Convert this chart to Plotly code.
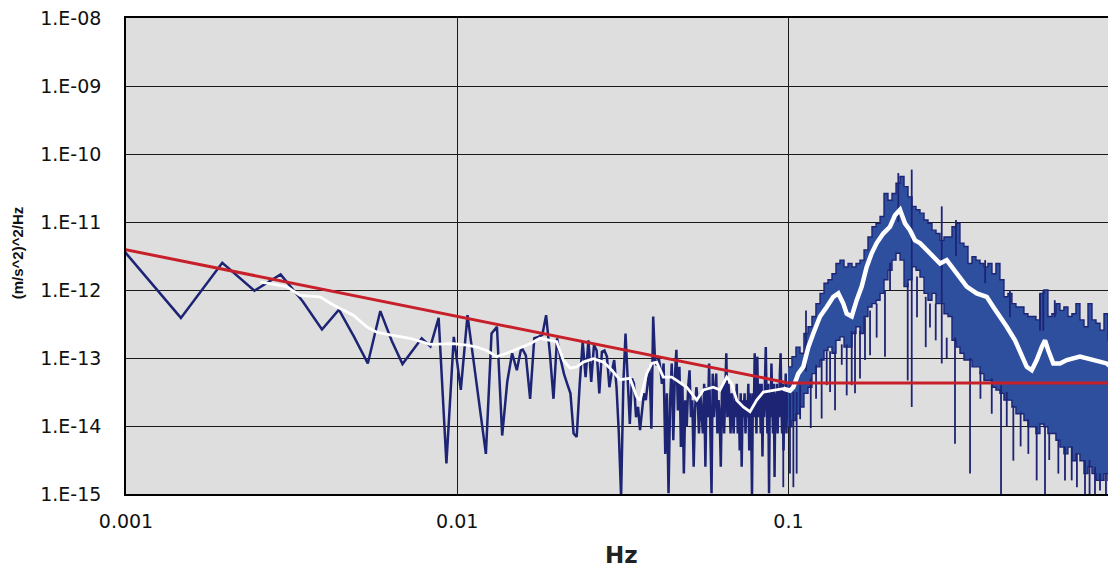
import numpy as np
import plotly.graph_objects as go

# ---------------- data (PSD values stored as log10 of (m/s^2)^2/Hz) ----------------
DF = 1.0 / 2048.0      # frequency resolution of the spectrum, Hz
BIN0 = 2               # first plotted bin

# individual spectral bins, k = 2 ... 205
sparse_log = [
    -11.40, -12.41, -11.60, -12.01, -11.77, -12.17, -12.58, -12.29, -12.69, -13.08,
    -12.31, -12.75, -13.09, -12.89, -12.71, -12.83, -12.41, -14.55, -12.69,
    -13.47, -12.37, -13.08, -13.77, -14.41, -12.64, -12.54, -14.14, -13.35, -12.93,
    -13.18, -12.84, -12.96, -13.60, -12.71, -12.69, -12.66, -12.37, -12.93, -13.60,
    -12.71, -13.01, -13.23, -13.38, -13.52, -14.11, -14.16, -13.38, -12.76, -13.28,
    -12.74, -13.35, -12.81, -12.89, -13.52, -12.91, -12.89, -12.98, -13.43, -13.20,
    -13.03, -13.43, -14.11, -15.05, -13.38, -12.64, -13.33, -13.97, -13.30, -13.38,
    -13.87, -13.72, -14.06, -13.77, -13.52, -13.62, -13.33, -13.13, -14.04, -12.39,
    -13.03, -13.11, -12.98, -13.13, -13.38, -13.08, -14.41, -13.52, -14.99, -13.62,
    -13.08, -14.21, -13.28, -12.88, -13.77, -13.13, -14.31, -13.38, -14.70, -13.62,
    -14.01, -13.43, -13.18, -13.87, -13.62, -14.60, -13.77, -13.43, -13.62, -14.11,
    -13.52, -13.77, -14.11, -13.38, -14.60, -13.43, -13.87, -13.08, -14.21, -14.99,
    -13.23, -13.87, -13.52, -13.23, -14.11, -13.62, -13.87, -14.60, -13.52, -13.38,
    -14.11, -13.62, -12.93, -13.87, -13.38, -13.62, -14.11, -13.52, -13.87, -14.11,
    -13.52, -13.87, -13.38, -14.11, -13.62, -14.36, -13.52, -14.60, -13.62, -13.87,
    -13.52, -14.11, -13.62, -13.87, -13.38, -14.36, -13.52, -13.87, -15.05, -13.52,
    -13.87, -12.93, -13.62, -14.11, -12.98, -13.87, -13.38, -13.62, -14.11, -13.38,
    -14.45, -13.52, -13.87, -13.23, -12.84, -13.62, -14.11, -13.38, -14.99, -13.52,
    -13.87, -13.08, -13.62, -14.11, -13.38, -14.75, -13.52, -13.87, -13.38, -14.11,
    -13.52, -13.87, -13.23, -12.93, -13.62, -14.11, -13.38, -14.36, -13.52, -13.87,
    -13.23, -14.11, -13.62, -13.87, -13.38,
]

# dense part of the spectrum (0.1 - 1 Hz): upper and lower edge of the solid band
band_f = [
    0.0997, 0.1025, 0.1054, 0.1084, 0.1114, 0.1146, 0.1178, 0.1211, 0.1246, 0.1281,
    0.1317, 0.1354, 0.1392, 0.1431, 0.1472, 0.1514, 0.1556, 0.1600, 0.1645, 0.1692,
    0.1739, 0.1788, 0.1839, 0.1891, 0.1944, 0.1998, 0.2055, 0.2113, 0.2173, 0.2234,
    0.2297, 0.2361, 0.2428, 0.2496, 0.2567, 0.2639, 0.2713, 0.2790, 0.2869, 0.2949,
    0.3033, 0.3118, 0.3206, 0.3296, 0.3389, 0.3485, 0.3583, 0.3684, 0.3788, 0.3894,
    0.4004, 0.4117, 0.4233, 0.4352, 0.4475, 0.4601, 0.4730, 0.4864, 0.5001, 0.5142,
    0.5287, 0.5436, 0.5589, 0.5747, 0.5909, 0.6075, 0.6247, 0.6423, 0.6604, 0.6790,
    0.6981, 0.7178, 0.7381, 0.7589, 0.7806, 0.8027, 0.8253, 0.8486, 0.8726, 0.8972,
    0.9226, 0.9486, 0.9754,
]
band_hi = [
    -13.13, -12.98, -12.84, -12.93, -12.64, -12.54, -12.39, -12.20, -12.05, -11.90,
    -11.85, -11.76, -11.61, -11.56, -11.66, -11.61, -11.66, -11.61, -11.56, -11.41,
    -11.22, -11.07, -11.02, -10.92, -10.58, -10.68, -10.58, -10.43, -10.33, -10.48,
    -10.63, -10.77, -10.82, -10.87, -10.97, -11.02, -11.12, -11.17, -11.27, -11.22,
    -11.22, -11.07, -11.02, -11.31, -11.36, -11.61, -11.51, -11.56, -11.61, -11.66,
    -11.61, -11.76, -11.61, -11.85, -12.10, -12.05, -12.20, -12.25, -12.25, -12.35,
    -12.39, -12.39, -12.44, -12.05, -12.00, -12.39, -12.35, -12.20, -12.30, -12.25,
    -12.39, -12.35, -12.20, -12.44, -12.54, -12.20, -12.44, -12.49, -12.59, -12.35,
    -12.74, -12.84, -12.74,
]
band_lo = [
    -14.01, -13.92, -13.82, -13.72, -13.52, -13.43, -13.23, -13.13, -13.03, -12.89,
    -12.84, -12.93, -12.74, -12.69, -12.84, -12.84, -12.64, -12.54, -12.64, -12.39,
    -12.25, -12.20, -12.15, -12.05, -11.85, -11.71, -11.56, -11.46, -11.56, -11.95,
    -11.85, -11.66, -11.71, -11.81, -12.05, -12.15, -12.05, -12.20, -12.20, -12.35,
    -12.39, -12.74, -12.84, -12.93, -13.03, -13.03, -13.13, -13.13, -13.23, -13.33,
    -13.33, -13.43, -13.47, -13.52, -13.62, -13.62, -13.72, -13.82, -13.82, -13.92,
    -14.01, -14.01, -14.11, -13.97, -14.01, -14.11, -14.11, -14.21, -14.31, -14.41,
    -14.31, -14.51, -14.41, -14.51, -14.70, -14.60, -14.70, -14.80, -14.80, -14.70,
    -14.80, -14.90, -14.85,
]

# isolated spikes sticking out of the dense band (top and bottom of each spike)
spike_f = [0.1011, 0.1059, 0.1130, 0.1168, 0.1260, 0.1383, 0.1500, 0.1589, 0.1703, 0.1957,
           0.2147, 0.2292, 0.2357, 0.2598, 0.2785, 0.2904, 0.3184, 0.3206, 0.3535, 0.4111,
           0.4385, 0.4777, 0.5302, 0.5618, 0.5749, 0.5883, 0.5953, 0.6841, 0.7167, 0.7862,
           0.8426, 0.8727, 0.9354,
           0.0965, 0.1035, 0.1085, 0.1212, 0.1305, 0.1336, 0.1449, 0.1553, 0.1645, 0.1764,
           0.1847, 0.2027, 0.2445, 0.2676, 0.3006, 0.3800, 0.3927, 0.4563, 0.4664, 0.5025,
           0.6131, 0.6371, 0.6532, 0.7432, 0.8114, 0.9095]
spike_top = [-13.40, -13.50, -12.30, -13.30, -13.00, -12.90, -12.80, -12.60, -12.40, -12.00,
             -10.28, -11.90, -10.23, -12.10, -12.20, -10.77, -12.70, -10.97, -13.00, -13.30,
             -13.40, -13.70, -13.90, -14.00, -12.05, -12.00, -14.00, -14.30, -14.30, -14.50,
             -14.60, -14.70, -14.70,
             -13.60, -13.50, -13.40, -13.10, -12.90, -12.90, -12.80, -12.60, -12.60, -12.30,
             -12.20, -11.60, -11.80, -12.20, -12.70, -13.20, -11.56, -13.50, -12.00, -13.80,
             -14.10, -12.15, -14.20, -14.40, -14.50, -14.70]
spike_bot = [-14.70, -14.70, -13.20, -14.03, -13.89, -13.77, -13.55, -13.52, -13.03, -12.98,
             -11.00, -13.33, -13.72, -12.84, -12.74, -13.08, -14.26, -11.50, -14.70, -13.82,
             -15.00, -14.51, -14.41, -14.80, -12.60, -12.60, -15.00, -14.80, -14.80, -15.00,
             -15.00, -14.95, -14.95,
             -14.90, -14.90, -13.90, -13.60, -13.40, -13.50, -13.10, -13.40, -13.30, -12.96,
             -12.70, -12.00, -12.40, -12.55, -13.00, -13.60, -11.90, -14.00, -12.40, -14.30,
             -14.50, -12.40, -14.70, -14.90, -15.00, -15.00]

# smoothed spectrum (white curve)
smooth_f = [
    0.002539, 0.003056, 0.003353, 0.003852, 0.004226, 0.004857, 0.005332, 0.005715, 0.006268, 0.007202,
    0.008277, 0.009732, 0.010683, 0.011454, 0.012280, 0.013165, 0.014114, 0.015659, 0.016589, 0.017783,
    0.019066, 0.019970, 0.020908, 0.021907, 0.022950, 0.024027, 0.025760, 0.027616, 0.028932, 0.031013,
    0.033247, 0.034833, 0.035640, 0.037338, 0.038658, 0.040026, 0.041905, 0.044422, 0.045994, 0.049316,
    0.052872, 0.055353, 0.059335, 0.062162, 0.065124, 0.067428, 0.069815, 0.073092, 0.076575, 0.080226,
    0.083994, 0.090048, 0.096519, 0.10112, 0.10346, 0.10712, 0.11091, 0.11483, 0.11889, 0.12456,
    0.13050, 0.13663, 0.14147, 0.14647, 0.14997, 0.15527, 0.16076, 0.16644, 0.17233, 0.17842,
    0.18473, 0.19339, 0.20265, 0.20981, 0.21723, 0.22491, 0.23286, 0.24109, 0.24961, 0.26151,
    0.27384, 0.28690, 0.30059, 0.32228, 0.34549, 0.37037, 0.39704, 0.41569, 0.43551, 0.45627,
    0.48337, 0.50641, 0.52431, 0.54284, 0.56204, 0.58192, 0.59541, 0.60922, 0.63076, 0.66081,
    0.69230, 0.75918, 0.83257, 0.91413, 0.96845,
]
smooth_log = [
    -11.88, -11.95, -12.08, -12.10, -12.22, -12.37, -12.54, -12.62, -12.66, -12.71,
    -12.80, -12.79, -12.81, -12.84, -12.89, -12.98, -12.93, -12.84, -12.79, -12.71,
    -12.74, -12.76, -13.03, -13.15, -13.13, -13.06, -13.01, -13.06, -13.15, -13.32,
    -13.30, -13.57, -13.62, -13.23, -13.08, -13.06, -13.28, -13.28, -13.33, -13.43,
    -13.62, -13.47, -13.43, -13.47, -13.28, -13.38, -13.62, -13.72, -13.79, -13.62,
    -13.50, -13.47, -13.45, -13.48, -13.43, -13.23, -13.13, -12.84, -12.64, -12.39,
    -12.25, -12.10, -12.05, -12.20, -12.35, -12.39, -12.15, -11.95, -11.66, -11.46,
    -11.31, -11.17, -11.07, -10.90, -10.82, -11.02, -11.12, -11.27, -11.31, -11.41,
    -11.51, -11.61, -11.56, -11.76, -11.95, -12.05, -12.10, -12.25, -12.39, -12.54,
    -12.74, -12.98, -13.13, -13.18, -13.03, -12.84, -12.74, -12.89, -13.08, -13.08,
    -13.03, -12.98, -13.03, -13.08, -13.18,
]

# requirement curve (red)
req_f = [0.000977, 0.1, 1.0]
req_val = [4.0e-12, 4.3e-14, 4.3e-14]

# green marker at the right edge
green_f = [0.972]
green_val = [3.5e-12]

x_tick_vals = [0.001, 0.01, 0.1, 1]
x_tick_text = ["0.001", "0.01", "0.1", "1"]
y_tick_exp = [-15, -14, -13, -12, -11, -10, -9, -8]
y_tick_text = ["1.E-15", "1.E-14", "1.E-13", "1.E-12", "1.E-11", "1.E-10", "1.E-09", "1.E-08"]

# ---------------- styling ----------------
NAVY = "#1d2474"
BAND = "#2d4f9e"
RED = "#c8202a"
GREEN = "#4cb030"
GRID = "#1a1a1a"
TICK_FONT = dict(family="DejaVu Sans", size=19, color="#111111")

sparse_f = (BIN0 + np.arange(len(sparse_log))) * DF
smooth_f_arr = np.array(smooth_f)
smooth_y = 10 ** np.array(smooth_log)
low_part = smooth_f_arr <= 0.102     # thinner in the sparse low-frequency part
high_part = smooth_f_arr >= 0.096

spx, spy = [], []
for f, t, b in zip(spike_f, spike_top, spike_bot):
    spx += [f, f, None]
    spy += [10 ** t, 10 ** b, None]

fig = go.Figure()
fig.add_trace(go.Scatter(x=sparse_f, y=10 ** np.array(sparse_log), mode="lines",
                         line=dict(color=NAVY, width=2.5), hoverinfo="skip", showlegend=False))
fig.add_trace(go.Scatter(x=band_f, y=10 ** np.array(band_lo), mode="lines",
                         line=dict(color=NAVY, width=1.4, shape="hv"),
                         hoverinfo="skip", showlegend=False))
fig.add_trace(go.Scatter(x=band_f, y=10 ** np.array(band_hi), mode="lines", fill="tonexty",
                         fillcolor=BAND, line=dict(color=NAVY, width=1.4, shape="hv"),
                         hoverinfo="skip", showlegend=False))
fig.add_trace(go.Scatter(x=spx, y=spy, mode="lines", line=dict(color=NAVY, width=1.8),
                         hoverinfo="skip", showlegend=False))
fig.add_trace(go.Scatter(x=smooth_f_arr[low_part], y=smooth_y[low_part], mode="lines",
                         line=dict(color="white", width=2.8), hoverinfo="skip", showlegend=False))
fig.add_trace(go.Scatter(x=smooth_f_arr[high_part], y=smooth_y[high_part], mode="lines",
                         line=dict(color="white", width=4.5), hoverinfo="skip", showlegend=False))
fig.add_trace(go.Scatter(x=req_f, y=req_val, mode="lines",
                         line=dict(color=RED, width=3), hoverinfo="skip", showlegend=False))
fig.add_trace(go.Scatter(x=green_f, y=green_val, mode="markers", cliponaxis=False,
                         marker=dict(color=GREEN, size=14), hoverinfo="skip", showlegend=False))
# carrier trace for the top frame axis (minor ticks)
fig.add_trace(go.Scatter(x=[0.001], y=[1e-15], xaxis="x2", mode="markers",
                         marker=dict(opacity=0), hoverinfo="skip", showlegend=False))

# the page body adds an 8 px offset, so the figure is 8 px smaller and margins compensate
fig.update_layout(
    width=1108, height=562,
    margin=dict(l=118, r=0, t=10, b=76),
    paper_bgcolor="white",
    plot_bgcolor="#dedede",
    xaxis=dict(type="log", range=[-3, -0.0109], tickmode="array",
               tickvals=x_tick_vals, ticktext=x_tick_text, tickfont=TICK_FONT,
               showgrid=True, gridcolor=GRID, gridwidth=1.2, zeroline=False,
               showline=True, linecolor="black", linewidth=1.6, ticks="",
               ticklabelstandoff=9, ticklabeloverflow="allow"),
    xaxis2=dict(type="log", range=[-3, -0.0109], overlaying="x", side="top",
                showgrid=False, showticklabels=False, ticks="", zeroline=False,
                showline=True, linecolor="black", linewidth=1.6,
                minor=dict(ticks="inside", ticklen=4, tickwidth=1, tickcolor="black",
                           showgrid=False, dtick="D1")),
    yaxis=dict(type="log", range=[-15, -8], tickmode="array",
               tickvals=[10.0 ** e for e in y_tick_exp], ticktext=y_tick_text,
               tickfont=TICK_FONT, showgrid=True, gridcolor=GRID, gridwidth=1.2,
               zeroline=False, showline=True, linecolor="black", linewidth=1.6,
               ticks="", ticklabelstandoff=19, ticklabeloverflow="allow"),
    annotations=[
        dict(text="Hz", xref="paper", yref="paper", x=0.5, y=-0.128,
             xanchor="center", yanchor="middle", showarrow=False,
             font=dict(family="DejaVu Sans", size=23, color="#222222", weight="bold")),
        dict(text="(m/s^2)^2/Hz", xref="paper", yref="paper", x=-0.110, y=0.506,
             xanchor="center", yanchor="middle", textangle=-90, showarrow=False,
             font=dict(family="Liberation Sans", size=15, color="#111111", weight="bold")),
    ],
)

fig.write_html("out.html")
